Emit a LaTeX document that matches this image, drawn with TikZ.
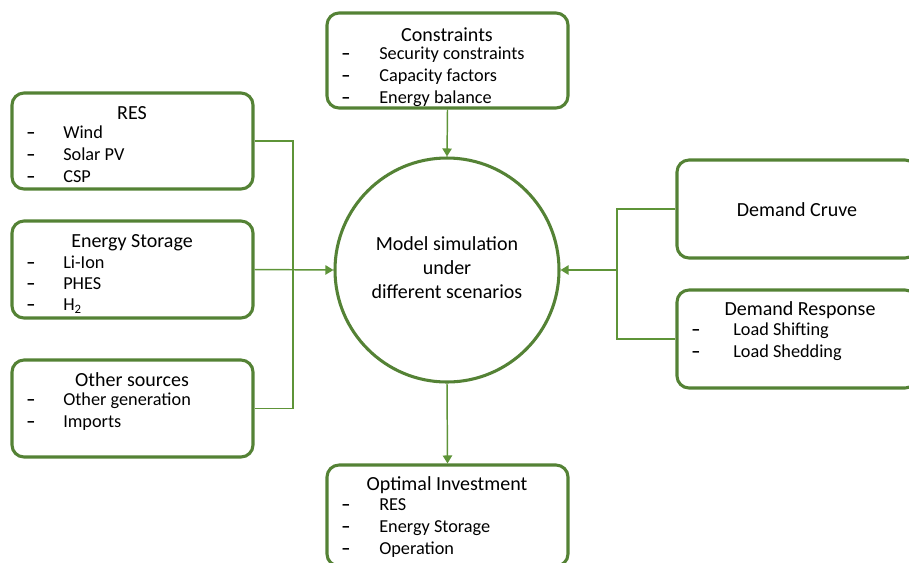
\documentclass[tikz,border=0pt]{standalone}
\usepackage{fontspec}
\setmainfont{Carlito}
\usetikzlibrary{arrows.meta}
\definecolor{boxgreen}{HTML}{548235}
\definecolor{linegreen}{HTML}{5E9438}
\begin{document}
\begin{tikzpicture}[x=0.75pt,y=-0.75pt,
  box/.style={draw=boxgreen,line width=2.3pt,rounded corners=9pt,rectangle,inner sep=0pt},
  conn/.style={draw=linegreen,line width=1.1pt},
  arr/.style={-{Triangle[width=7pt,length=6pt]}},
  ttl/.style={inner sep=0pt,yshift=-1.2pt,font=\fontsize{15pt}{17pt}\selectfont},
  itm/.style={inner sep=0pt,yshift=-1.2pt,anchor=mid west,font=\fontsize{13.7pt}{15pt}\selectfont},
  dsh/.style={inner sep=0pt,yshift=-1.2pt,anchor=mid west,font=\fontsize{13.7pt}{15pt}\selectfont\bfseries},
  ctx/.style={inner sep=0pt,yshift=-1.5pt,anchor=mid,font=\fontsize{15pt}{17pt}\selectfont}]
\useasboundingbox (0,0) rectangle (909,562);
\begin{scope}
\clip (0,0) rectangle (909,562);
% boxes
\node[box,minimum width=180.75pt,minimum height=72pt] (res) at (132.5,141) {};
\node[box,minimum width=180.75pt,minimum height=72.75pt] (sto) at (132.5,269.5) {};
\node[box,minimum width=180.75pt,minimum height=72.75pt] (oth) at (132.5,408.5) {};
\node[box,minimum width=180.75pt,minimum height=71.25pt] (con) at (447.5,60.5) {};
\node[box,minimum width=180.75pt,minimum height=75.75pt] (opt) at (447.5,515.5) {};
\node[box,minimum width=180pt,minimum height=73.5pt] (dcu) at (797,209) {};
\node[box,minimum width=180pt,minimum height=73.5pt] (dre) at (797,339) {};
\node[draw=boxgreen,line width=2.3pt,circle,minimum size=168pt,inner sep=0pt] (sim) at (447,270) {};
\end{scope}
% circle text
\node[ctx] (s1) at (447,245) {Model simulation};
\node[ctx] (s2) at (447,269) {under};
\node[ctx] (s3) at (447,293) {different scenarios};
% RES
\node[ttl] (rest) at (132,111) {RES};
\node[dsh] (resd1) at (26,134) {–};
\node[itm] (resi1) at (63,134) {Wind};
\node[dsh] (resd2) at (26,156) {–};
\node[itm] (resi2) at (63,156) {Solar PV};
\node[dsh] (resd3) at (26,178) {–};
\node[itm] (resi3) at (63,178) {CSP};
% Storage
\node[ttl] (stot) at (132,241) {Energy Storage};
\node[dsh] (stod1) at (26,264) {–};
\node[itm] (stoi1) at (63,264) {Li-Ion};
\node[dsh] (stod2) at (26,285) {–};
\node[itm] (stoi2) at (63,285) {PHES};
\node[dsh] (stod3) at (26,306) {–};
\node[itm] (stoi3) at (63,306) {H\textsubscript{2}};
% Other
\node[ttl] (otht) at (132,378) {Other sources};
\node[dsh] (othd1) at (26,401) {–};
\node[itm] (othi1) at (63,401) {Other generation};
\node[dsh] (othd2) at (26,423) {–};
\node[itm] (othi2) at (63,423) {Imports};
% Constraints
\node[ttl] (cont) at (447,33) {Constraints};
\node[dsh] (cond1) at (341,55) {–};
\node[itm] (coni1) at (379,55) {Security constraints};
\node[dsh] (cond2) at (341,77) {–};
\node[itm] (coni2) at (379,77) {Capacity factors};
\node[dsh] (cond3) at (341,99) {–};
\node[itm] (coni3) at (379,99) {Energy balance};
% Optimal
\node[ttl] (optt) at (447,484) {Optimal Investment};
\node[dsh] (optd1) at (341,506) {–};
\node[itm] (opti1) at (379,506) {RES};
\node[dsh] (optd2) at (341,528) {–};
\node[itm] (opti2) at (379,528) {Energy Storage};
\node[dsh] (optd3) at (341,550) {–};
\node[itm] (opti3) at (379,550) {Operation};
% Demand
\node[ttl] (dcut) at (797,208) {Demand Cruve};
\node[ttl] (dret) at (800,309) {Demand Response};
\node[dsh] (dred1) at (691,331) {–};
\node[itm] (drei1) at (733,331) {Load Shifting};
\node[dsh] (dred2) at (691,353) {–};
\node[itm] (drei2) at (733,353) {Load Shedding};
% connectors
\coordinate (jl) at (293,269.5);
\coordinate (jr) at (617,270);
\draw[conn] (res.east) -| (jl) |- (oth.east);
\draw[conn,arr] (sto.east) -- (sim.west);
\draw[conn] (dcu.west) -| (jr) |- (dre.west);
\draw[conn,arr] (jr) -- (sim.east);
\draw[conn,arr] (con.south) -- (sim.north);
\draw[conn,arr] (sim.south) -- (opt.north);
\end{tikzpicture}
\end{document}
